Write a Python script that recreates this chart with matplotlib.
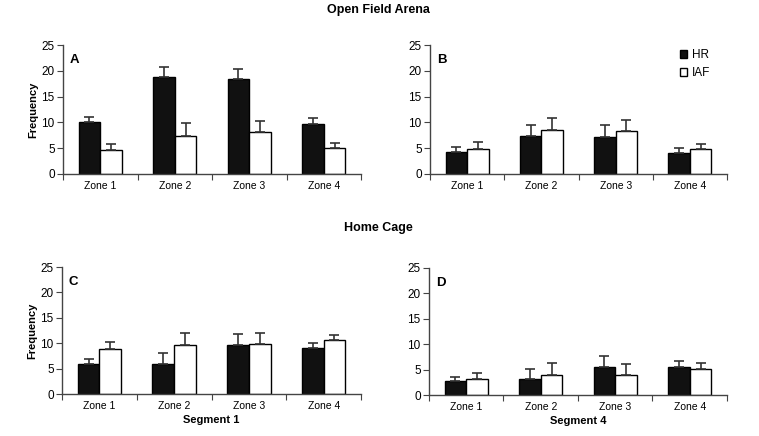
import numpy as np
import matplotlib
matplotlib.use("Agg")
import matplotlib.pyplot as plt

plt.rcParams['font.family'] = ['Liberation Sans', 'DejaVu Sans']

zones = ["Zone 1", "Zone 2", "Zone 3", "Zone 4"]
yticks = [0, 5, 10, 15, 20, 25]

# panel A - open field, HR vs IAF
a_hr = [10.1, 18.8, 18.4, 9.6]
a_hr_err = [1.0, 2.0, 2.0, 1.3]
a_iaf = [4.6, 7.4, 8.1, 5.0]
a_iaf_err = [1.3, 2.4, 2.2, 1.1]

# panel B
b_hr = [4.3, 7.4, 7.2, 4.1]
b_hr_err = [0.9, 2.0, 2.2, 0.9]
b_iaf = [4.8, 8.5, 8.3, 4.8]
b_iaf_err = [1.4, 2.4, 2.2, 1.1]

# panel C - home cage, segment 1
c_hr = [6.0, 6.0, 9.6, 9.0]
c_hr_err = [0.9, 2.0, 2.2, 1.1]
c_iaf = [8.8, 9.6, 9.8, 10.6]
c_iaf_err = [1.4, 2.4, 2.2, 1.0]

# panel D - home cage, segment 4
d_hr = [2.8, 3.1, 5.5, 5.5]
d_hr_err = [0.8, 2.1, 2.2, 1.2]
d_iaf = [3.1, 3.9, 3.9, 5.2]
d_iaf_err = [1.2, 2.4, 2.3, 1.1]

fig = plt.figure(figsize=(7.59, 4.36), dpi=100)
W, H = 759.0, 436.0

def make_ax(x0, x1, ytop, ybot):
    return fig.add_axes([x0 / W, 1 - ybot / H, (x1 - x0) / W, (ybot - ytop) / H])

axA = make_ax(63, 361, 45, 174)
axB = make_ax(430, 727, 45, 174)
axC = make_ax(62, 361, 267, 394)
axD = make_ax(429, 727, 268, 395)

w = 0.29
x = np.arange(1, 5)

def panel(ax, hr, hr_err, iaf, iaf_err, letter, ylabel=False, xlabel=None):
    ax.bar(x - w / 2, hr, w, color='#111111', edgecolor='black', linewidth=1.0,
           yerr=[np.zeros(4), hr_err], error_kw=dict(ecolor='#333333', elinewidth=1.2, capsize=3.5, capthick=1.2),
           label='HR', zorder=2)
    ax.bar(x + w / 2, iaf, w, color='white', edgecolor='black', linewidth=1.0,
           yerr=[np.zeros(4), iaf_err], error_kw=dict(ecolor='#333333', elinewidth=1.2, capsize=3.5, capthick=1.2),
           label='IAF', zorder=2)
    ax.set_xlim(0.5, 4.5)
    ax.set_ylim(0, 25)
    ax.set_yticks(yticks)
    ax.set_xticks(np.arange(0.5, 5.0, 1.0))
    ax.set_xticklabels([])
    ax.set_xticks(x, minor=True)
    ax.set_xticklabels(zones, minor=True, fontsize=7.5)
    ax.tick_params(axis='x', which='minor', length=0, pad=5)
    ax.tick_params(axis='x', which='major', length=4, direction='out', color='#444444')
    ax.tick_params(axis='y', length=4, direction='out', labelsize=8.5, pad=2, color='#444444')
    for s in ['top', 'right']:
        ax.spines[s].set_visible(False)
    for s in ['left', 'bottom']:
        ax.spines[s].set_color('#444444')
        ax.spines[s].set_linewidth(1.0)
    ax.text(0.023, 0.93, letter, transform=ax.transAxes, fontsize=9.5, fontweight='bold', va='top')
    if ylabel:
        ax.set_ylabel('Frequency', fontsize=8, fontweight='bold', labelpad=2)
    if xlabel:
        ax.set_xlabel(xlabel, fontsize=8, fontweight='bold', labelpad=3)

panel(axA, a_hr, a_hr_err, a_iaf, a_iaf_err, 'A', ylabel=True)
panel(axB, b_hr, b_hr_err, b_iaf, b_iaf_err, 'B')
panel(axC, c_hr, c_hr_err, c_iaf, c_iaf_err, 'C', ylabel=True, xlabel='Segment 1')
panel(axD, d_hr, d_hr_err, d_iaf, d_iaf_err, 'D', xlabel='Segment 4')

axB.legend(loc='upper right', bbox_to_anchor=(0.98, 1.05), frameon=False, fontsize=8.5,
           handlelength=0.6, handleheight=0.6, handletextpad=0.4, labelspacing=0.5)

fig.text(0.498, 0.977, 'Open Field Arena', ha='center', va='center', fontsize=9, fontweight='bold')
fig.text(0.498, 0.477, 'Home Cage', ha='center', va='center', fontsize=9, fontweight='bold')

fig.savefig('out.png', dpi=100)
